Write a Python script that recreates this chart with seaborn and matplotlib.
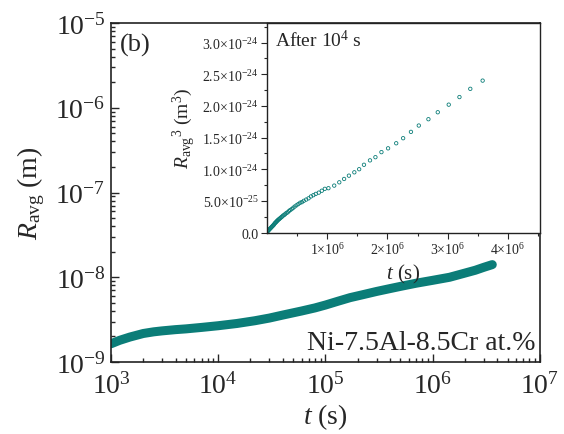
import numpy as np
import pandas as pd
import matplotlib
matplotlib.use("Agg")
import matplotlib.pyplot as plt
import matplotlib.ticker as mticker
import seaborn as sns

# ---- data ----
t_main = [1e3, 1.2e3, 1.5e3, 2e3, 2.5e3, 3e3, 4e3, 5e3, 7e3, 1e4, 1.5e4, 2.2e4,
          3e4, 4e4, 6e4, 8e4, 1e5, 1.3e5, 1.7e5, 2.2e5, 3e5, 4e5, 5e5, 7e5,
          1e6, 1.44e6, 2e6, 2.5e6, 3e6, 3.6e6]
r_main = [1.64e-9, 1.80e-9, 1.97e-9, 2.17e-9, 2.27e-9, 2.33e-9, 2.41e-9, 2.46e-9,
          2.56e-9, 2.68e-9, 2.85e-9, 3.07e-9, 3.30e-9, 3.58e-9, 4.00e-9, 4.35e-9,
          4.70e-9, 5.20e-9, 5.75e-9, 6.20e-9, 6.80e-9, 7.35e-9, 7.80e-9, 8.50e-9,
          9.20e-9, 1.00e-8, 1.12e-8, 1.21e-8, 1.31e-8, 1.41e-8]
x_major = [1e3, 1e4, 1e5, 1e6, 1e7]
y_major = [1e-9, 1e-8, 1e-7, 1e-6, 1e-5]

t_inset_1e6 = [0.01, 0.015, 0.02, 0.028, 0.035, 0.045, 0.055, 0.065, 0.075, 0.085,
               0.095, 0.105, 0.115, 0.125, 0.135, 0.145, 0.155, 0.165, 0.175, 0.185,
               0.20, 0.21, 0.225, 0.24, 0.255, 0.27, 0.29, 0.305, 0.325, 0.345,
               0.365, 0.385, 0.41, 0.435, 0.46, 0.49, 0.52, 0.55, 0.58, 0.61,
               0.65, 0.69, 0.73, 0.77, 0.81, 0.86, 0.91, 0.96, 1.02, 1.116,
               1.20, 1.28, 1.36, 1.45, 1.53, 1.61, 1.71, 1.80, 1.90, 2.01,
               2.145, 2.26, 2.39, 2.52, 2.68, 2.835, 3.017, 3.195, 3.375, 3.58]
r3_inset_1e24 = [0.02, 0.025, 0.03, 0.04, 0.045, 0.055, 0.065, 0.075, 0.085, 0.095,
                 0.105, 0.115, 0.125, 0.14, 0.15, 0.16, 0.17, 0.18, 0.19, 0.20,
                 0.21, 0.22, 0.23, 0.245, 0.255, 0.27, 0.28, 0.295, 0.31, 0.32,
                 0.34, 0.355, 0.37, 0.39, 0.41, 0.43, 0.45, 0.47, 0.48, 0.50,
                 0.52, 0.54, 0.57, 0.59, 0.61, 0.63, 0.66, 0.69, 0.70, 0.741,
                 0.793, 0.846, 0.898, 0.951, 1.00, 1.07, 1.14, 1.19, 1.27, 1.33,
                 1.41, 1.49, 1.59, 1.69, 1.79, 1.90, 2.02, 2.14, 2.27, 2.40]

main_df = pd.DataFrame({"t": t_main, "R": r_main})
inset_df = pd.DataFrame({"t": np.array(t_inset_1e6) * 1e6,
                         "R3": np.array(r3_inset_1e24) * 1e-24})

# ---- style ----
sns.set_style("ticks")
plt.rcParams["font.family"] = ["Liberation Serif", "DejaVu Serif"]
plt.rcParams["mathtext.fontset"] = "custom"
plt.rcParams["mathtext.rm"] = "Liberation Serif"
plt.rcParams["mathtext.it"] = "Liberation Serif:italic"
plt.rcParams["mathtext.bf"] = "Liberation Serif:bold"
plt.rcParams["axes.unicode_minus"] = False

color = "#0b7d78"

fig = plt.figure(figsize=(5.64, 4.35), dpi=100)
ax = fig.add_axes([0.1968, 0.1655, 0.7604, 0.7793])

sns.lineplot(data=main_df, x="t", y="R", ax=ax, color=color, linewidth=6.5,
             solid_capstyle="round", solid_joinstyle="round")
ax.set_xscale("log")
ax.set_yscale("log")
ax.set_xlim(1e3, 1e7)
ax.set_ylim(1e-9, 1e-5)
ax.xaxis.set_major_locator(mticker.FixedLocator(x_major))
ax.yaxis.set_major_locator(mticker.FixedLocator(y_major))
ax.xaxis.set_major_formatter(mticker.LogFormatterSciNotation())
ax.yaxis.set_major_formatter(mticker.LogFormatterSciNotation())
ax.xaxis.set_minor_locator(mticker.LogLocator(base=10, subs=np.arange(2, 10), numticks=20))
ax.yaxis.set_minor_locator(mticker.LogLocator(base=10, subs=np.arange(2, 10), numticks=20))
ax.xaxis.set_minor_formatter(mticker.NullFormatter())
ax.yaxis.set_minor_formatter(mticker.NullFormatter())
ax.tick_params(which="both", direction="in", width=1.0)
ax.tick_params(which="major", length=6, labelsize=20, pad=4)
ax.tick_params(axis="x", which="major", pad=7)
ax.tick_params(which="minor", length=3)
for s in ax.spines.values():
    s.set_linewidth(1.2)
    s.set_color("#222222")
ax.set_xlabel(r"$t$ (s)", fontsize=20, labelpad=2)
ax.set_ylabel(r"$R_{\rm avg}$ (m)", fontsize=20, labelpad=6)
ax.text(0.02, 0.97, "(b)", transform=ax.transAxes, fontsize=19,
        ha="left", va="top")
ax.text(0.99, 0.02, "Ni-7.5Al-8.5Cr at.%", transform=ax.transAxes, fontsize=20,
        ha="right", va="bottom")

# ---- inset ----
ins = fig.add_axes([0.4734, 0.4632, 0.4838, 0.4816])
sns.scatterplot(data=inset_df, x="t", y="R3", ax=ins, marker="o", s=6,
                facecolors="none", edgecolor=color, linewidth=0.6, legend=False)
ins.set_xlim(0, 4.53e6)
ins.set_ylim(0, 3.31e-24)


def sci_fmt(val, pos, nd=1):
    if val == 0:
        return "0.0"
    exp = int(np.floor(np.log10(abs(val)) + 1e-9))
    mant = val / 10 ** exp
    m = f"{mant:.{nd}f}" if nd > 0 else f"{mant:.0f}"
    return m + r"$\times$10$^{" + f"{exp}" + "}$"


ins.xaxis.set_major_locator(mticker.FixedLocator([1e6, 2e6, 3e6, 4e6]))
ins.xaxis.set_minor_locator(mticker.FixedLocator([0.5e6, 1.5e6, 2.5e6, 3.5e6, 4.5e6]))
ins.xaxis.set_major_formatter(mticker.FuncFormatter(lambda v, p: sci_fmt(v, p, 0)))
ins.yaxis.set_major_locator(mticker.MultipleLocator(0.5e-24))
ins.yaxis.set_minor_locator(mticker.MultipleLocator(0.25e-24))
ins.yaxis.set_major_formatter(mticker.FuncFormatter(lambda v, p: sci_fmt(v, p, 1)))
ins.tick_params(which="both", direction="out", width=0.8)
ins.tick_params(which="major", length=4, labelsize=10, pad=2)
ins.tick_params(which="minor", length=2)
for s in ins.spines.values():
    s.set_linewidth(1.0)
    s.set_color("#222222")
ins.set_xlabel(r"$t$ (s)", fontsize=15, labelpad=4)
ins.set_ylabel(r"$R_{\rm avg}{}^{3}$ (m$^3$)", fontsize=14, labelpad=3)
ins.text(0.03, 0.97, r"After 10$^4$ s", transform=ins.transAxes, fontsize=14,
         ha="left", va="top")

fig.savefig("out.png", dpi=100)
